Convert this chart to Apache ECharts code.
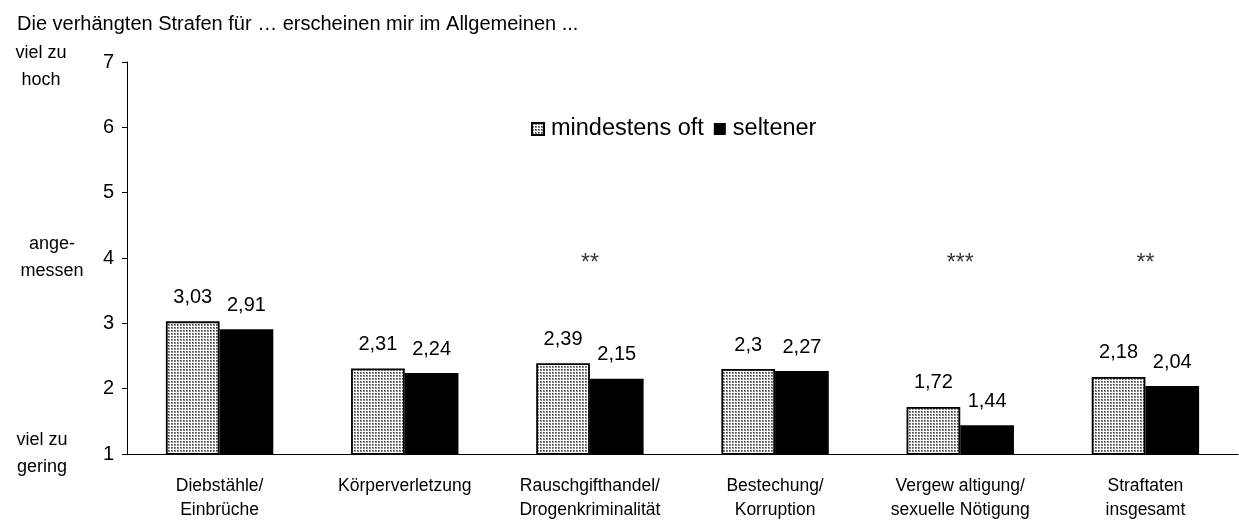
<!DOCTYPE html>
<html>
<head>
<meta charset="utf-8">
<script src="https://cdn.jsdelivr.net/npm/echarts@6/dist/echarts.min.js"></script>
<style>
  html, body { margin: 0; padding: 0; background: #fff; }
  #chart { width: 1239px; height: 525px; }
</style>
</head>
<body>
<div id="chart"></div>
<script>
const categories = [
  "Diebstähle/\nEinbrüche",
  "Körperverletzung",
  "Rauschgifthandel/\nDrogenkriminalität",
  "Bestechung/\nKorruption",
  "Vergew altigung/\nsexuelle Nötigung",
  "Straftaten\ninsgesamt",
];
const oftValues = [3.03, 2.31, 2.39, 2.3, 1.72, 2.18];
const seltenerValues = [2.91, 2.24, 2.15, 2.27, 1.44, 2.04];
const significance = ["", "", "**", "", "***", "**"];
const sigLevel = 4;
const scaleValues = [1, 4, 7];
const scaleLabels = ["viel zu\ngering", "ange-\nmessen", "viel zu\nhoch"];

// dotted fill like the old spreadsheet pattern
const tile = document.createElement("canvas");
tile.width = tile.height = 3;
const tctx = tile.getContext("2d");
tctx.fillStyle = "#ffffff";
tctx.fillRect(0, 0, 3, 3);
tctx.fillStyle = "#8a8a8a";
tctx.fillRect(0, 0, 2, 2);
tctx.fillStyle = "#444444";
tctx.fillRect(0, 0, 1, 1);

const font = "Liberation Sans, Arial, sans-serif";
const fmt = (v) => String(v).replace(".", ",");

const chart = echarts.init(document.getElementById("chart"));
chart.setOption({
  animation: false,
  textStyle: { fontFamily: font, color: "#000" },
  title: {
    text: "Die verhängten Strafen für … erscheinen mir im Allgemeinen ...",
    left: 12,
    top: 9,
    textStyle: { fontSize: 20, fontWeight: "normal", color: "#000", fontFamily: font },
  },
  legend: {
    data: ["mindestens oft", "seltener"],
    icon: "rect",
    left: 526,
    top: 112,
    itemWidth: 12,
    itemHeight: 12,
    itemGap: 10,
    textStyle: { fontSize: 23.5, color: "#000", fontFamily: font, padding: [0, 0, 0, 2] },
  },
  grid: { left: 127, right: 1, top: 62, bottom: 71 },
  xAxis: {
    type: "category",
    data: categories,
    axisLine: { lineStyle: { color: "#000", width: 1 } },
    axisTick: { length: 5, lineStyle: { color: "#000" } },
    axisLabel: { fontSize: 17.5, lineHeight: 24, margin: 20, color: "#000", interval: 0 },
  },
  yAxis: [
    {
      type: "value",
      min: 1,
      max: 7,
      interval: 1,
      axisLine: { show: true, lineStyle: { color: "#000" } },
      axisTick: { show: true, length: 5, lineStyle: { color: "#000" } },
      axisLabel: { fontSize: 20, margin: 13, color: "#000" },
      splitLine: { show: false },
    },
    {
      type: "value",
      position: "left",
      offset: 75,
      min: 1,
      max: 7,
      interval: 3,
      axisLine: { show: false },
      axisTick: { show: false },
      splitLine: { show: false },
      axisLabel: {
        align: "center",
        margin: 0,
        color: "#000",
        formatter: (v) => {
          const t = scaleLabels[scaleValues.indexOf(v)] || "";
          if (v === 7) return "{top|" + t + "}";
          if (v === 1) return "{low|" + t + "}";
          return "{mid|" + t + "}";
        },
        rich: {
          top: { fontSize: 18, lineHeight: 27, padding: [10, 22, 0, 0], fontFamily: font },
          mid: { fontSize: 18, lineHeight: 27, fontFamily: font },
          low: { fontSize: 18, lineHeight: 27, padding: [0, 20, 0, 0], fontFamily: font },
        },
      },
    },
  ],
  series: [
    {
      name: "mindestens oft",
      type: "bar",
      data: oftValues,
      barGap: "0%",
      barCategoryGap: "42%",
      itemStyle: {
        color: { image: tile, repeat: "repeat" },
        borderColor: "#000",
        borderWidth: 1.8,
      },
      label: {
        show: true,
        position: "top",
        distance: 14,
        fontSize: 20,
        color: "#000",
        formatter: (p) => fmt(p.value),
      },
    },
    {
      name: "seltener",
      type: "bar",
      data: seltenerValues,
      itemStyle: { color: "#000" },
      label: {
        show: true,
        position: "top",
        distance: 14,
        fontSize: 20,
        color: "#000",
        formatter: (p) => fmt(p.value),
      },
    },
    {
      type: "scatter",
      symbolSize: 0,
      silent: true,
      data: significance.map((s, i) => [i, s ? sigLevel : null]),
      label: {
        show: true,
        position: "inside",
        offset: [0, 6],
        fontSize: 23,
        color: "#000",
        formatter: (p) => significance[p.dataIndex],
      },
    },
  ],
});
</script>
</body>
</html>
